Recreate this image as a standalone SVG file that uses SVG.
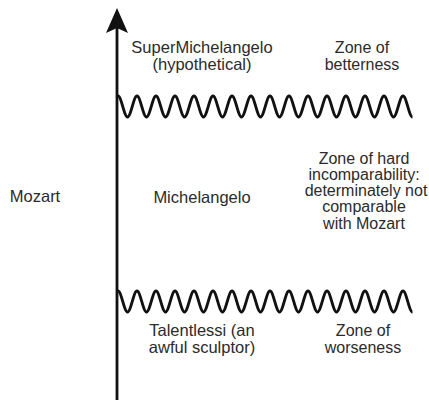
<svg xmlns="http://www.w3.org/2000/svg" xmlns:xlink="http://www.w3.org/1999/xlink" width="429" height="400" viewBox="0 0 429 400">
<style>
text{font-family:"Liberation Sans",Arial,sans-serif;font-size:16.5px;fill:#2b2b2b;text-anchor:middle}
.r{font-size:16px}
.wave{fill:none;stroke:#111;stroke-width:2.8}
.axis{stroke:#111;stroke-width:2.8;fill:none}
</style>
<defs>
<path id="wave" class="wave" d="M0,0 c3.46,0 6.04,21 9.5,21 s6.04,-21 9.5,-21 s6.04,21 9.5,21 s6.04,-21 9.5,-21 s6.04,21 9.5,21 s6.04,-21 9.5,-21 s6.04,21 9.5,21 s6.04,-21 9.5,-21 s6.04,21 9.5,21 s6.04,-21 9.5,-21 s6.04,21 9.5,21 s6.04,-21 9.5,-21 s6.04,21 9.5,21 s6.04,-21 9.5,-21 s6.04,21 9.5,21 s6.04,-21 9.5,-21 s6.04,21 9.5,21 s6.04,-21 9.5,-21 s6.04,21 9.5,21 s6.04,-21 9.5,-21 s6.04,21 9.5,21 s6.04,-21 9.5,-21 s6.04,21 9.5,21 s6.04,-21 9.5,-21 s6.04,21 9.5,21 s6.04,-21 9.5,-21 s6.04,21 9.5,21 s6.04,-21 9.5,-21 s6.04,21 9.5,21 s6.04,-21 9.5,-21 s6.04,21 9.5,21"/>
</defs>
<rect width="429" height="400" fill="#fff"/>
<g id="connectors">
<line class="axis" x1="117" y1="24" x2="117" y2="400"/>
<path d="M117,8 L128,33 L117,28 L106,33 Z" fill="#111"/>
<use href="#wave" xlink:href="#wave" x="118" y="96"/>
<use href="#wave" xlink:href="#wave" x="118" y="291"/>
</g>
<g id="mozart"><text x="35" y="202">Mozart</text></g>
<g id="supermichelangelo"><text x="202" y="53">SuperMichelangelo</text><text x="202" y="70">(hypothetical)</text></g>
<g id="betterness"><text class="r" x="362" y="53">Zone of</text><text class="r" x="362" y="70">betterness</text></g>
<g id="michelangelo"><text x="202" y="203">Michelangelo</text></g>
<g id="incomparability"><text class="r" x="364" y="163.5">Zone of hard</text><text class="r" x="364" y="179.75">incomparability:</text><text class="r" x="366" y="196">determinately not</text><text class="r" x="364" y="212.25">comparable</text><text class="r" x="364" y="228.5">with Mozart</text></g>
<g id="talentlessi"><text x="202" y="336">Talentlessi (an</text><text x="202" y="353">awful sculptor)</text></g>
<g id="worseness"><text class="r" x="363" y="336">Zone of</text><text class="r" x="363" y="353">worseness</text></g>
</svg>
